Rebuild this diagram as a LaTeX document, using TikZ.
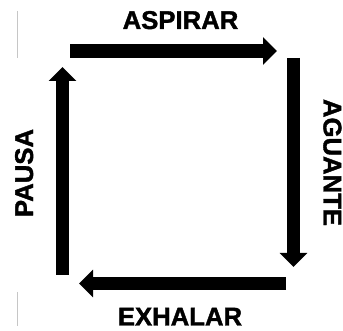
\documentclass[tikz,border=0pt]{standalone}
\usepackage{fontspec}
\setmainfont{Liberation Sans}
\newfontfamily\phasefont{Liberation Sans}[BoldFeatures={FakeBold=1.5}]
\usepackage{xcolor}
\usepackage{tikz}
\usetikzlibrary{arrows.meta, positioning}
\tikzstyle{phase} = [
    font=\phasefont\fontsize{25.7pt}{30pt}\selectfont\bfseries,
    inner sep=0pt,
    anchor=base,
    text=black
]
\tikzset{
    >={Triangle[length=14pt,width=27pt]}
}
\tikzstyle{arrow} = [
    line width=13.5pt,
    ->,
    draw=black
]
\tikzstyle{rule} = [
    line width=1pt,
    draw=gray!45
]

\begin{document}
\begin{tikzpicture}[x=1pt,y=-1pt]
\useasboundingbox (0,0) rectangle (343,331);
\clip (0,0) rectangle (343,331);

% Nodes
\node (aspirar) [phase] at (180.5,29) {ASPIRAR};

\node (aguante) [phase, rotate=-90] at (323.5,162.5) {AGUANTE};

\node (exhalar) [phase] at (180,325.5) {EXHALAR};

\node (pausa) [phase, rotate=90] at (33,173) {PAUSA};

% Ends of the arrows
\coordinate (topstart) at (70,51);
\coordinate (topend) at (277,51);
\coordinate (rightstart) at (293.5,58);
\coordinate (rightend) at (293.5,267);
\coordinate (bottomstart) at (286,283.5);
\coordinate (bottomend) at (79,283.5);
\coordinate (leftstart) at (62.5,275);
\coordinate (leftend) at (62.5,67);

% Arrows
\draw [arrow] (topstart) -- (topend);

\draw [arrow] (rightstart) -- (rightend);

\draw [arrow] (bottomstart) -- (bottomend);

\draw [arrow] (leftstart) -- (leftend);

% Grey marks on the left
\draw [rule] (17.5,11) -- (17.5,58);
\draw [rule] (17.5,292) -- (17.5,326);

\end{tikzpicture}
\end{document}
